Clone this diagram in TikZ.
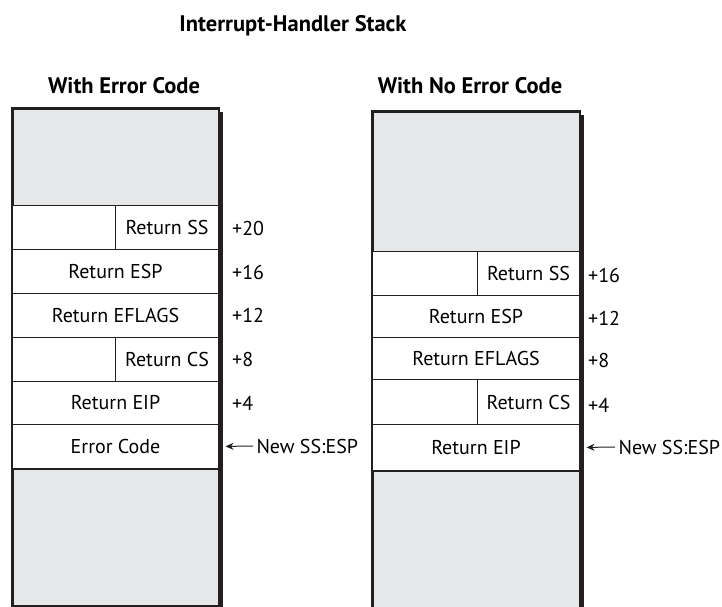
\documentclass[tikz,border=0pt]{standalone}
\usepackage{fontspec}
\setmainfont{PT Sans}
\usetikzlibrary{arrows.meta}
\definecolor{edge}{HTML}{231F20}
\definecolor{stackgray}{HTML}{E6E7E8}
\tikzset{
  cell/.style={draw=edge, line width=1pt, fill=white, inner sep=0pt, anchor=north west, font=\fontsize{20}{22}\selectfont},
  graycell/.style={cell, fill=stackgray, line width=1.6pt},
  offs/.style={anchor=west, inner sep=0pt, font=\fontsize{20}{22}\selectfont},
  heading/.style={inner sep=0pt, font=\fontsize{22.5}{24}\selectfont\bfseries},
  shadow/.style={fill=edge, draw=none},
  arr/.style={-{Stealth[length=8pt,width=7pt]}, line width=1pt, draw=edge, shorten >=6.5pt},
}
\begin{document}
\begin{tikzpicture}[x=1pt,y=-1pt]
\useasboundingbox (0,0) rectangle (722,607);

\node[heading] (title) at (293,26) {Interrupt-Handler Stack};
\node[heading] (tl) at (124,86) {With Error Code};
\node[heading] (tr) at (470,86) {With No Error Code};

% ---------- left stack ----------
\node[graycell, minimum width=206, minimum height=97] (ltop) at (12,108) {};
\node[cell, minimum width=103, minimum height=44] (lssa) at (12,205) {};
\node[cell, minimum width=103, minimum height=44] (lss) at (115,205) {Return SS};
\node[cell, minimum width=206, minimum height=44] (lesp) at (12,249) {Return ESP};
\node[cell, minimum width=206, minimum height=44] (lefl) at (12,293) {Return EFLAGS};
\node[cell, minimum width=103, minimum height=44] (lcsa) at (12,337) {};
\node[cell, minimum width=103, minimum height=44] (lcs) at (115,337) {Return CS};
\node[cell, minimum width=206, minimum height=43] (leip) at (12,381) {Return EIP};
\node[cell, minimum width=206, minimum height=44] (lerr) at (12,424) {Error Code};
\node[graycell, minimum width=206, minimum height=137] (lbot) at (12,468) {};
\draw[edge, line width=1.6pt] (ltop.north west) rectangle (lbot.south east);
\fill[shadow] (218,112) rectangle (222.5,607);

\node[offs] (o20) at (232,228) {+20};
\node[offs] (o16) at (232,272) {+16};
\node[offs] (o12) at (232,315) {+12};
\node[offs] (o8) at (232,359) {+8};
\node[offs] (o4) at (232,403) {+4};
\node[offs] (lnew) at (253,446) {\,New SS:ESP};
\draw[arr] (lnew.west) -- (lerr.east);

% ---------- right stack ----------
\node[graycell, minimum width=207, minimum height=140] (rtop) at (372,111) {};
\node[cell, minimum width=105, minimum height=44] (rssa) at (372,251) {};
\node[cell, minimum width=102, minimum height=44] (rss) at (477,251) {Return SS};
\node[cell, minimum width=207, minimum height=42] (resp) at (372,295) {Return ESP};
\node[cell, minimum width=207, minimum height=42] (refl) at (372,337) {Return EFLAGS};
\node[cell, minimum width=105, minimum height=45] (rcsa) at (372,379) {};
\node[cell, minimum width=102, minimum height=45] (rcs) at (477,379) {Return CS};
\node[cell, minimum width=207, minimum height=46] (reip) at (372,424) {Return EIP};
\node[graycell, minimum width=207, minimum height=137] (rbot) at (372,470) {};
\draw[edge, line width=1.6pt] (rtop.north west) rectangle (rbot.south east);
\fill[shadow] (579,115) rectangle (583.5,607);

\node[offs] (r16) at (588,275) {+16};
\node[offs] (r12) at (588,318) {+12};
\node[offs] (r8) at (588,360) {+8};
\node[offs] (r4) at (588,405) {+4};
\node[offs] (rnew) at (615,447) {\,New SS:ESP};
\draw[arr] (rnew.west) -- (reip.east);
\end{tikzpicture}
\end{document}
